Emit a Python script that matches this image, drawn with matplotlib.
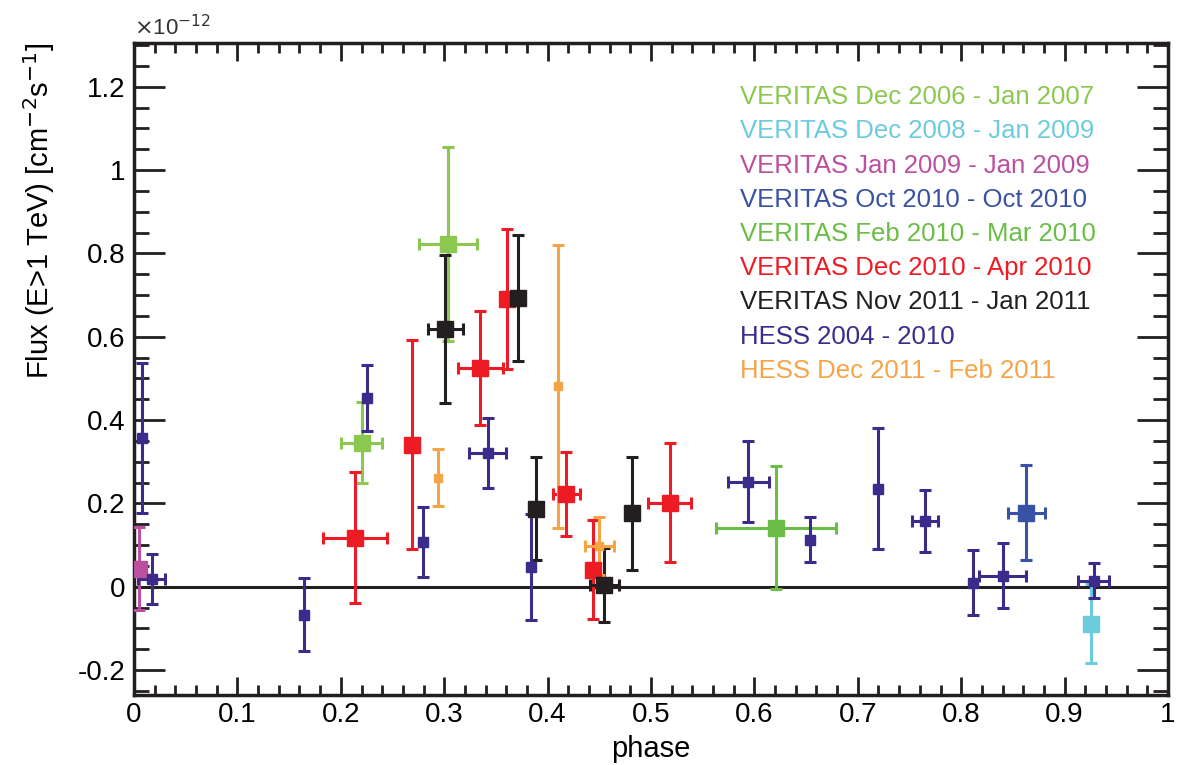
import matplotlib
matplotlib.use("Agg")
import matplotlib.pyplot as plt
from matplotlib.ticker import MultipleLocator, FormatStrFormatter

plt.rcParams['font.family'] = ['Liberation Sans', 'DejaVu Sans']

# flux in units of 1e-12 cm^-2 s^-1
hess_phase = [0.008, 0.017, 0.164, 0.225, 0.279, 0.342, 0.384, 0.594, 0.654, 0.720, 0.765, 0.811, 0.840, 0.928]
hess_flux  = [0.357, 0.019, -0.067, 0.453, 0.108, 0.322, 0.048, 0.252, 0.113, 0.235, 0.158, 0.009, 0.026, 0.014]
hess_yerr  = [0.180, 0.060, 0.087, 0.080, 0.084, 0.084, 0.127, 0.097, 0.054, 0.145, 0.075, 0.078, 0.078, 0.042]
hess_xerr  = [0.0, 0.013, 0.0, 0.0, 0.0, 0.018, 0.0, 0.020, 0.0, 0.0, 0.013, 0.0, 0.023, 0.015]

v0607_phase = [0.220, 0.304]
v0607_flux  = [0.346, 0.823]
v0607_yerr  = [0.098, 0.233]
v0607_xerr  = [0.020, 0.028]

v0809_phase = [0.926]
v0809_flux  = [-0.089]
v0809_yerr  = [0.095]
v0809_xerr  = [0.0]

v09_phase = [0.005]
v09_flux  = [0.043]
v09_yerr  = [0.100]
v09_xerr  = [0.0]

voct10_phase = [0.863]
voct10_flux  = [0.178]
voct10_yerr  = [0.113]
voct10_xerr  = [0.018]

vfeb10_phase = [0.621]
vfeb10_flux  = [0.142]
vfeb10_yerr  = [0.148]
vfeb10_xerr  = [0.058]

vdec10_phase = [0.214, 0.269, 0.335, 0.361, 0.418, 0.444, 0.518]
vdec10_flux  = [0.118, 0.341, 0.525, 0.691, 0.223, 0.041, 0.202]
vdec10_yerr  = [0.157, 0.250, 0.137, 0.168, 0.101, 0.118, 0.143]
vdec10_xerr  = [0.031, 0.0, 0.022, 0.0, 0.013, 0.0, 0.021]

vnov11_phase = [0.301, 0.371, 0.389, 0.455, 0.482]
vnov11_flux  = [0.619, 0.693, 0.187, 0.005, 0.176]
vnov11_yerr  = [0.177, 0.151, 0.124, 0.089, 0.135]
vnov11_xerr  = [0.017, 0.0, 0.0, 0.014, 0.0]

hdec11_phase = [0.294, 0.410, 0.450]
hdec11_flux  = [0.262, 0.481, 0.098]
hdec11_yerr  = [0.068, 0.340, 0.070]
hdec11_xerr  = [0.0, 0.0, 0.014]

labels = ["VERITAS Dec 2006 - Jan 2007", "VERITAS Dec 2008 - Jan 2009",
          "VERITAS Jan 2009 - Jan 2009", "VERITAS Oct 2010 - Oct 2010",
          "VERITAS Feb 2010 - Mar 2010", "VERITAS Dec 2010 - Apr 2010",
          "VERITAS Nov 2011 - Jan 2011", "HESS 2004 - 2010",
          "HESS Dec 2011 - Feb 2011"]
colors = ["#8cc850", "#6ccbdc", "#bb4fa0", "#3953a4", "#6abd45",
          "#ed1c24", "#231f20", "#3d2b8c", "#f7a446"]

series = [
    (v0607_phase, v0607_flux, v0607_xerr, v0607_yerr, 12),
    (v0809_phase, v0809_flux, v0809_xerr, v0809_yerr, 12),
    (v09_phase, v09_flux, v09_xerr, v09_yerr, 12),
    (voct10_phase, voct10_flux, voct10_xerr, voct10_yerr, 12),
    (vfeb10_phase, vfeb10_flux, vfeb10_xerr, vfeb10_yerr, 12),
    (vdec10_phase, vdec10_flux, vdec10_xerr, vdec10_yerr, 12),
    (vnov11_phase, vnov11_flux, vnov11_xerr, vnov11_yerr, 12),
    (hess_phase, hess_flux, hess_xerr, hess_yerr, 7),
    (hdec11_phase, hdec11_flux, hdec11_xerr, hdec11_yerr, 6),
]

fig = plt.figure(figsize=(11.78, 7.65), dpi=100)
ax = fig.add_axes([0.1138, 0.0915, 0.8777, 0.8523])

ax.axhline(0, color="#231f20", lw=2.2, zorder=1)

for (x, y, xe, ye, ms), c in zip(series, colors):
    ax.errorbar(x, y, xerr=xe, yerr=ye, fmt="s", color=c, ms=ms,
                elinewidth=2.2, capsize=4, capthick=2.2, zorder=3)

for i, (lab, c) in enumerate(zip(labels, colors)):
    ax.text(0.586, 0.917 - i * 0.0525, lab, color=c, fontsize=18.5,
            transform=ax.transAxes, va="center", ha="left")

ax.set_xlim(0, 1)
ax.set_ylim(-0.26, 1.305)
ax.xaxis.set_major_locator(MultipleLocator(0.1))
ax.xaxis.set_minor_locator(MultipleLocator(0.02))
ax.yaxis.set_major_locator(MultipleLocator(0.2))
ax.yaxis.set_minor_locator(MultipleLocator(0.05))
ax.xaxis.set_major_formatter(FormatStrFormatter("%g"))
ax.yaxis.set_major_formatter(FormatStrFormatter("%g"))

ax.tick_params(which="both", direction="in", top=True, right=True,
               labelsize=20, color="#231f20")
ax.tick_params(axis="y", which="major", length=22, width=2)
ax.tick_params(axis="y", which="minor", length=11, width=2)
ax.tick_params(axis="x", which="major", length=13, width=2)
ax.tick_params(axis="x", which="minor", length=7, width=2)
ax.tick_params(axis="x", pad=5)
ax.tick_params(axis="y", pad=6)

for s in ax.spines.values():
    s.set_linewidth(2.5)
    s.set_color("#231f20")

ax.set_xlabel("phase", fontsize=21, labelpad=5)
ax.set_ylabel(r"Flux (E>1 TeV) [cm$^{-2}$s$^{-1}$]", fontsize=21, loc="top",
              labelpad=15)
ax.text(0.0, 1.005, r"$\times$10$^{-12}$", fontsize=16, transform=ax.transAxes,
        ha="left", va="bottom", color="#333333")

fig.savefig("out.png", dpi=100)
